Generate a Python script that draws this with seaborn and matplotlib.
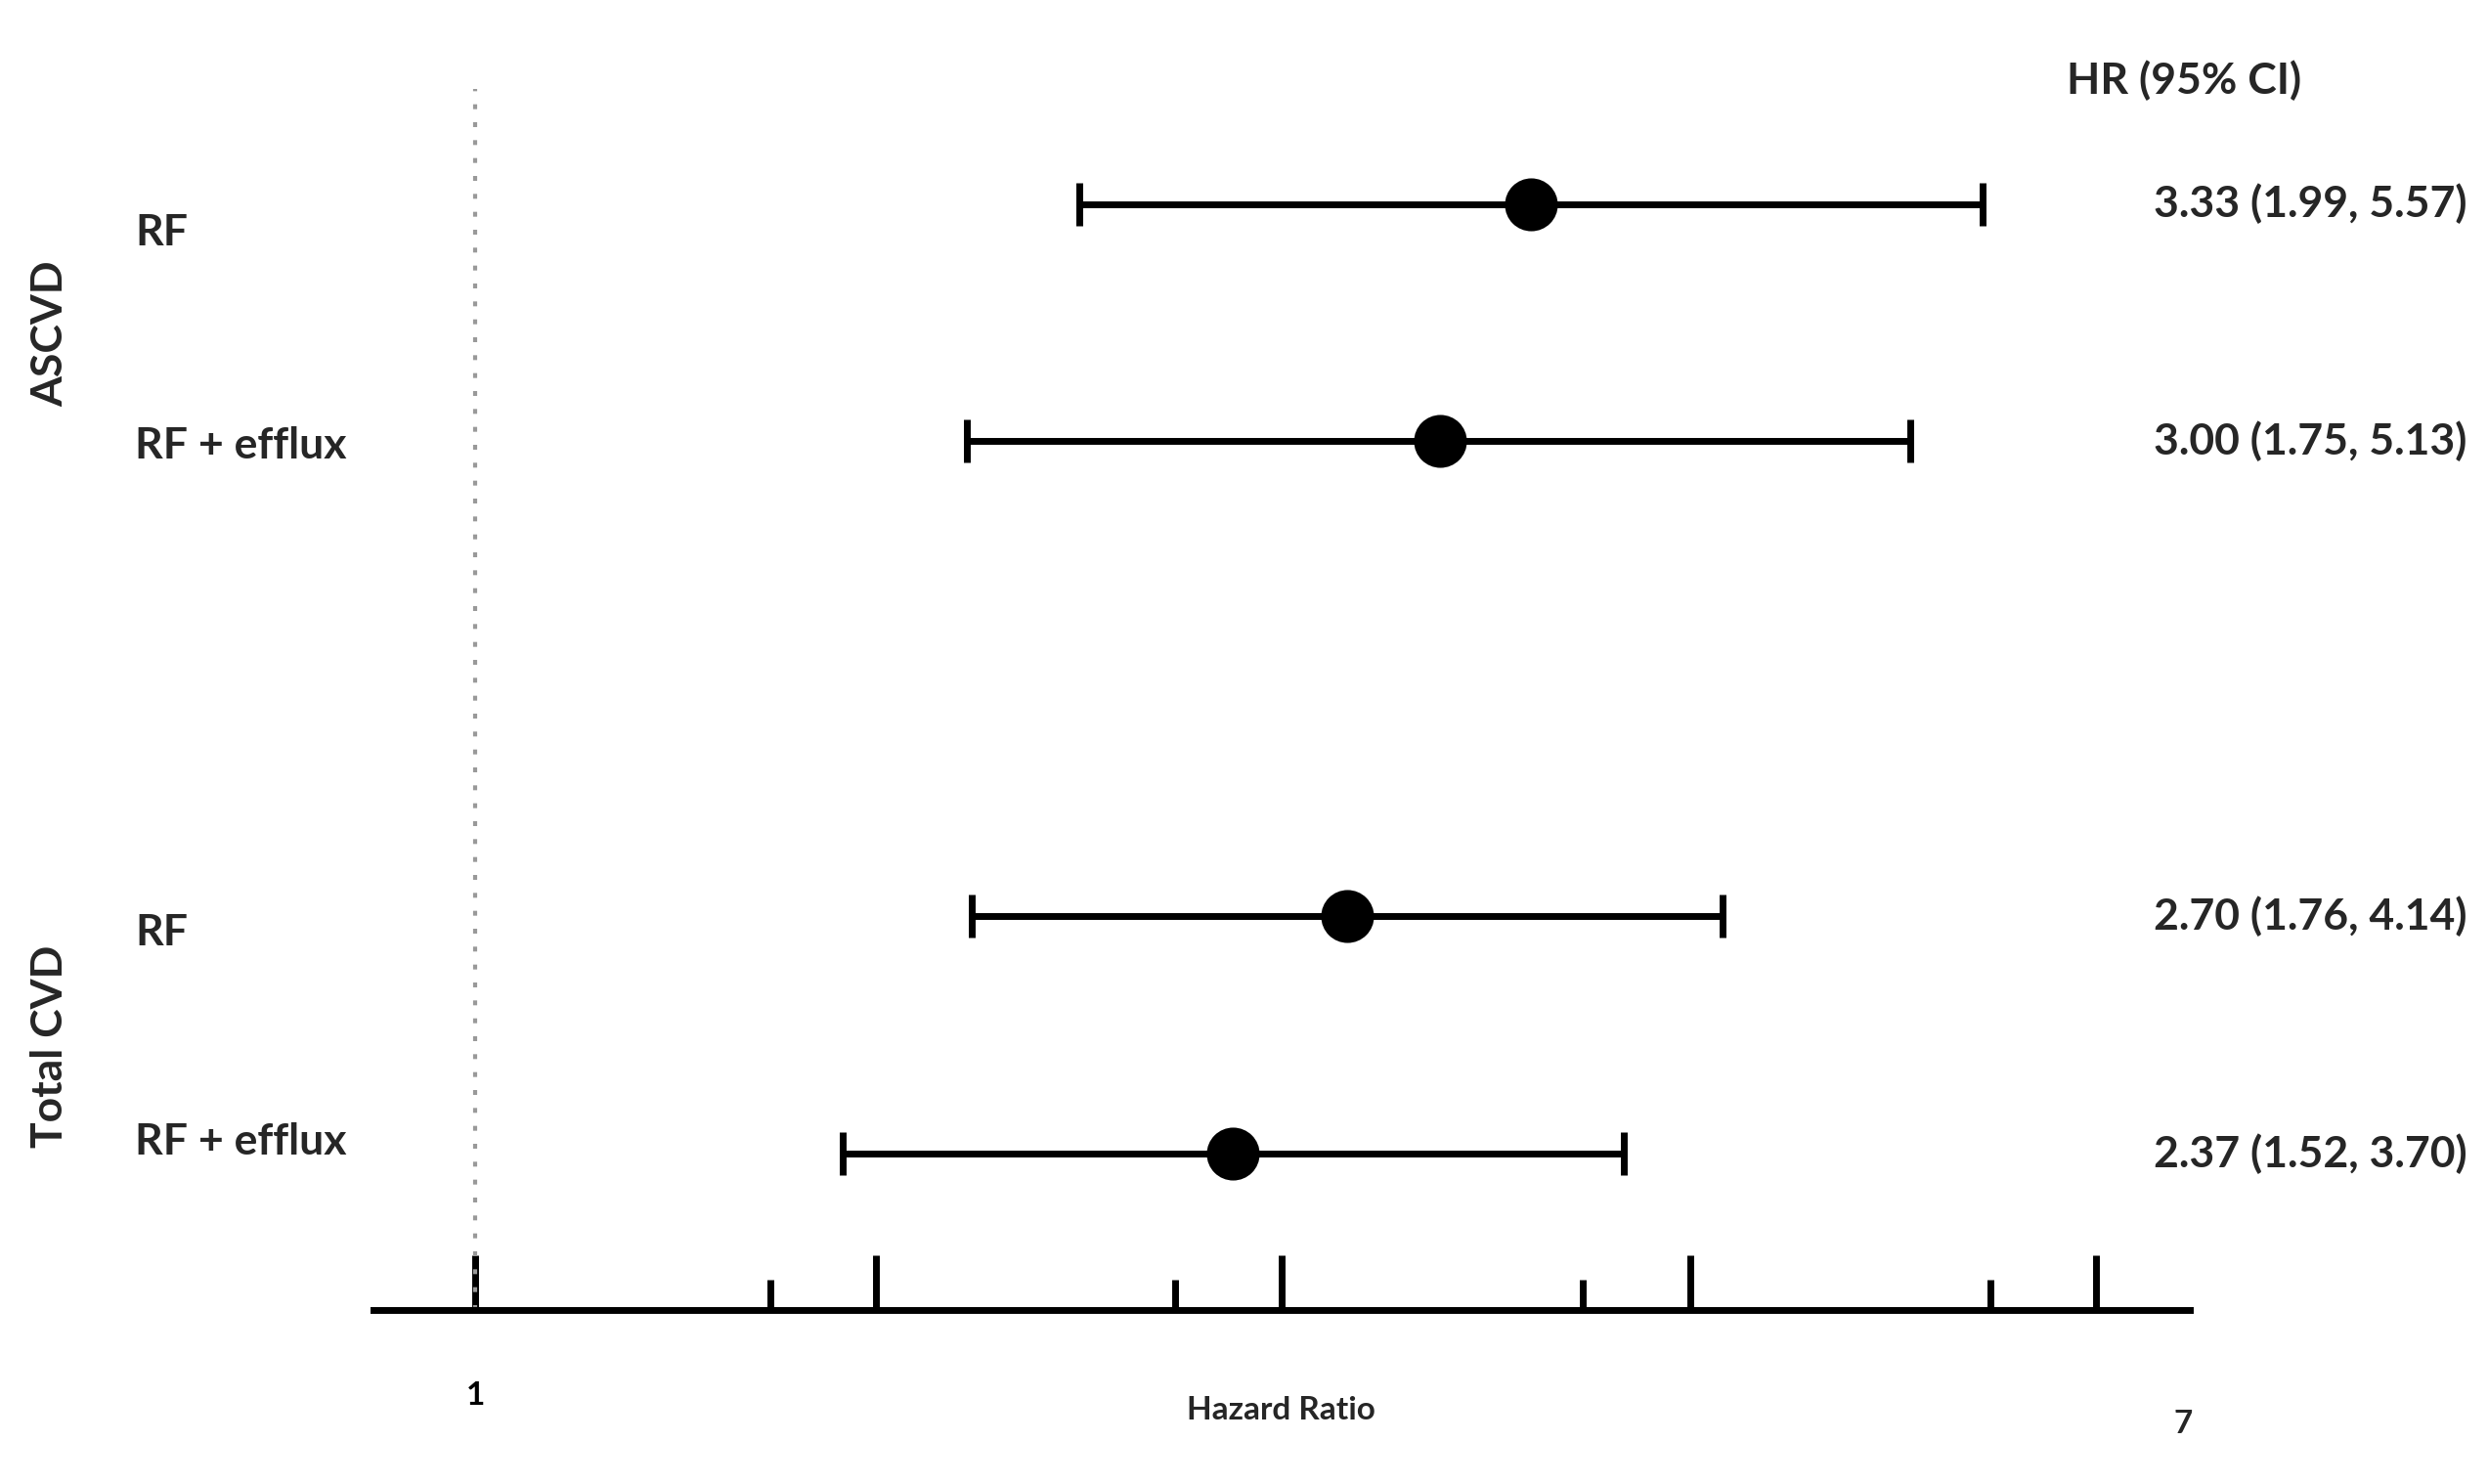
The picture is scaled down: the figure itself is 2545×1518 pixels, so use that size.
import matplotlib
matplotlib.use("Agg")
import matplotlib.pyplot as plt
import seaborn as sns
import pandas as pd
import numpy as np

sns.set_theme(style="white")
plt.rcParams['font.family'] = ['Lato', 'DejaVu Sans']
plt.rcParams['font.weight'] = 'bold'

models = ["RF", "RF + efflux", "RF", "RF + efflux"]
groups = ["ASCVD", "ASCVD", "Total CVD", "Total CVD"]
hr = [3.33, 3.00, 2.70, 2.37]
lo = [1.99, 1.75, 1.76, 1.52]
hi = [5.57, 5.13, 4.14, 3.70]
ypos = [0, 1, 3, 4]
major_ticks = [1.0, 1.579, 2.507, 3.99, 6.34]
minor_ticks = [1.40, 2.22, 3.53, 5.62]

df = pd.DataFrame({"model": models, "group": groups, "hr": hr, "lo": lo, "hi": hi, "y": ypos})

fig = plt.figure(figsize=(25.45, 15.18), dpi=100)
ax = fig.add_axes([0.150, 0.117, 0.730, 0.840])
ax.set_xscale("log")
ax.set_xlim(0.89, 7.05)
ax.set_ylim(4.66, -0.59)

ax.axvline(1.0, ymin=0.0, ymax=0.98, color="#999999", lw=3, linestyle=(0, (1.2, 3.2)))

ax.errorbar(df["hr"], df["y"], xerr=[df["hr"] - df["lo"], df["hi"] - df["hr"]],
            fmt="none", ecolor="black", elinewidth=5, capsize=16, capthick=5)
sns.scatterplot(data=df, x="hr", y="y", color="black", s=1300, ax=ax, zorder=5,
                edgecolor="black", legend=False)

for s in ["top", "right", "left"]:
    ax.spines[s].set_visible(False)
ax.spines["bottom"].set_linewidth(5)
ax.spines["bottom"].set_color("black")
ax.set_xticks(major_ticks)
ax.set_xticks(minor_ticks, minor=True)
ax.set_xticklabels(["1", "", "", "", ""])
ax.xaxis.set_minor_formatter(matplotlib.ticker.NullFormatter())
ax.tick_params(axis="x", which="major", direction="in", length=40, width=5, colors="black",
               labelsize=24, pad=52, bottom=True)
ax.tick_params(axis="x", which="minor", direction="in", length=22, width=5, colors="black", bottom=True)
ax.text(7.0, -0.08, "7", transform=ax.get_xaxis_transform(), ha="center", va="top",
        fontsize=24, fontweight="bold")
ax.set_yticks([])
ax.set_xlabel("Hazard Ratio", fontsize=24, fontweight="bold", labelpad=-10)
ax.set_ylabel("")

tr = ax.get_yaxis_transform()
label_offsets = [0.12, 0.02, 0.07, -0.05]
for m, y, off in zip(models, ypos, label_offsets):
    ax.text(-0.131, y + off, m, transform=tr, fontsize=32, fontweight="bold", va="center", ha="left")
for y, h, l, u in zip(ypos, hr, lo, hi):
    ax.text(1.153, y, f"{h:.2f} ({l:.2f}, {u:.2f})", transform=tr,
            fontsize=32, fontweight="bold", va="center", ha="right")
ax.text(0.997, -0.52, "HR (95% CI)", transform=tr, fontsize=32,
        fontweight="bold", va="center", ha="center")

fig.text(0.020, 0.775, "ASCVD", rotation=90, fontsize=32, fontweight="bold", va="center", ha="center")
fig.text(0.020, 0.295, "Total CVD", rotation=90, fontsize=32, fontweight="bold", va="center", ha="center")

fig.savefig("out.png", dpi=100)
